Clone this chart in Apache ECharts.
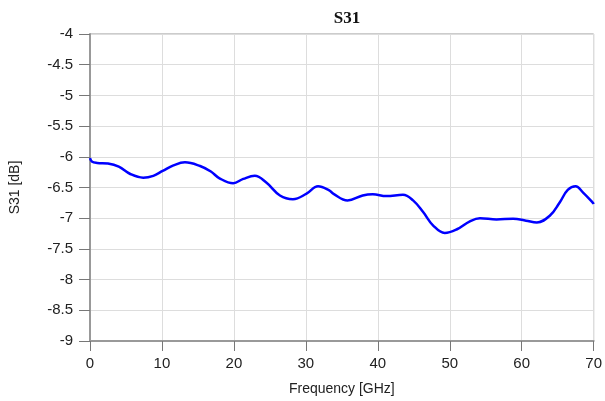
<!DOCTYPE html>
<html>
<head>
<meta charset="utf-8">
<script src="https://cdn.jsdelivr.net/npm/echarts@6/dist/echarts.min.js"></script>
<style>
  html, body { margin: 0; padding: 0; background: #fff; }
  #chart { width: 605px; height: 401px; }
</style>
</head>
<body>
<div id="chart"></div>
<script>
// frequency points [GHz]
const freq = [0, 0.3, 1, 2.5, 4, 5.6, 7.4, 8.8, 10.1, 11.6, 13.2, 15.3, 16.8, 18, 19.9, 21.3, 22.9, 24.5,
  26.4, 28.2, 30.1, 31.7, 33.3, 33.8, 35.8, 37.9, 39.3, 41.2, 43.5, 44.9, 46.3, 47.7, 49.3, 51,
  52.8, 54.2, 56.5, 58.8, 60.6, 62.1, 63.9, 65.3, 66.4, 67.5, 68.5, 69.9, 70];
// S31 [dB]
const s31 = [-6.02, -6.08, -6.1, -6.11, -6.16, -6.28, -6.34, -6.31, -6.23, -6.14, -6.09, -6.15, -6.24, -6.35, -6.43, -6.36, -6.31, -6.42,
  -6.63, -6.69, -6.6, -6.48, -6.55, -6.6, -6.71, -6.63, -6.61, -6.64, -6.62, -6.71, -6.9, -7.12, -7.24, -7.18,
  -7.05, -7.0, -7.02, -7.01, -7.04, -7.07, -6.96, -6.74, -6.54, -6.48, -6.58, -6.75, -6.77];

const yTicks = ['-4', '-4.5', '-5', '-5.5', '-6', '-6.5', '-7', '-7.5', '-8', '-8.5', '-9'];

const chart = echarts.init(document.getElementById('chart'));

const option = {
  animation: false,
  title: {
    text: 'S31',
    left: 342,
    textAlign: 'center',
    top: 5,
    textStyle: { fontFamily: 'Liberation Serif', fontWeight: 'bold', fontSize: 17, color: '#111' }
  },
  grid: {
    left: 90, right: 11, top: 34, bottom: 58,
    show: true, borderColor: '#999', borderWidth: 1
  },
  xAxis: {
    type: 'value',
    min: 0, max: 70, interval: 10,
    name: 'Frequency [GHz]',
    nameLocation: 'middle',
    nameGap: 41,
    nameTextStyle: { fontFamily: 'Liberation Sans', fontSize: 14, color: '#222' },
    axisLine: { show: true, onZero: false, lineStyle: { color: '#999', width: 2 } },
    axisTick: { show: true, length: 10, lineStyle: { color: '#777' } },
    axisLabel: { fontFamily: 'Liberation Sans', fontSize: 15, color: '#222', margin: 15 },
    splitLine: { show: true, lineStyle: { color: '#ddd' } }
  },
  yAxis: {
    type: 'value',
    min: -9, max: -4, interval: 0.5,
    name: 'S31 [dB]',
    nameLocation: 'middle',
    nameGap: 68,
    nameRotate: 90,
    nameTextStyle: { fontFamily: 'Liberation Sans', fontSize: 14, color: '#222' },
    axisLine: { show: true, onZero: false, lineStyle: { color: '#999', width: 2 } },
    axisTick: { show: true, length: 11, lineStyle: { color: '#777' } },
    axisLabel: {
      fontFamily: 'Liberation Sans', fontSize: 15, color: '#222', margin: 17,
      formatter: v => yTicks.find(t => Math.abs(parseFloat(t) - v) < 1e-6) || ''
    },
    splitLine: { show: true, lineStyle: { color: '#ddd' } }
  },
  series: [{
    type: 'line',
    data: freq.map((f, i) => [f, s31[i]]),
    smooth: 0.4,
    symbol: 'none',
    lineStyle: { color: '#0000ff', width: 2.5 }
  }]
};

chart.setOption(option);
</script>
</body>
</html>
